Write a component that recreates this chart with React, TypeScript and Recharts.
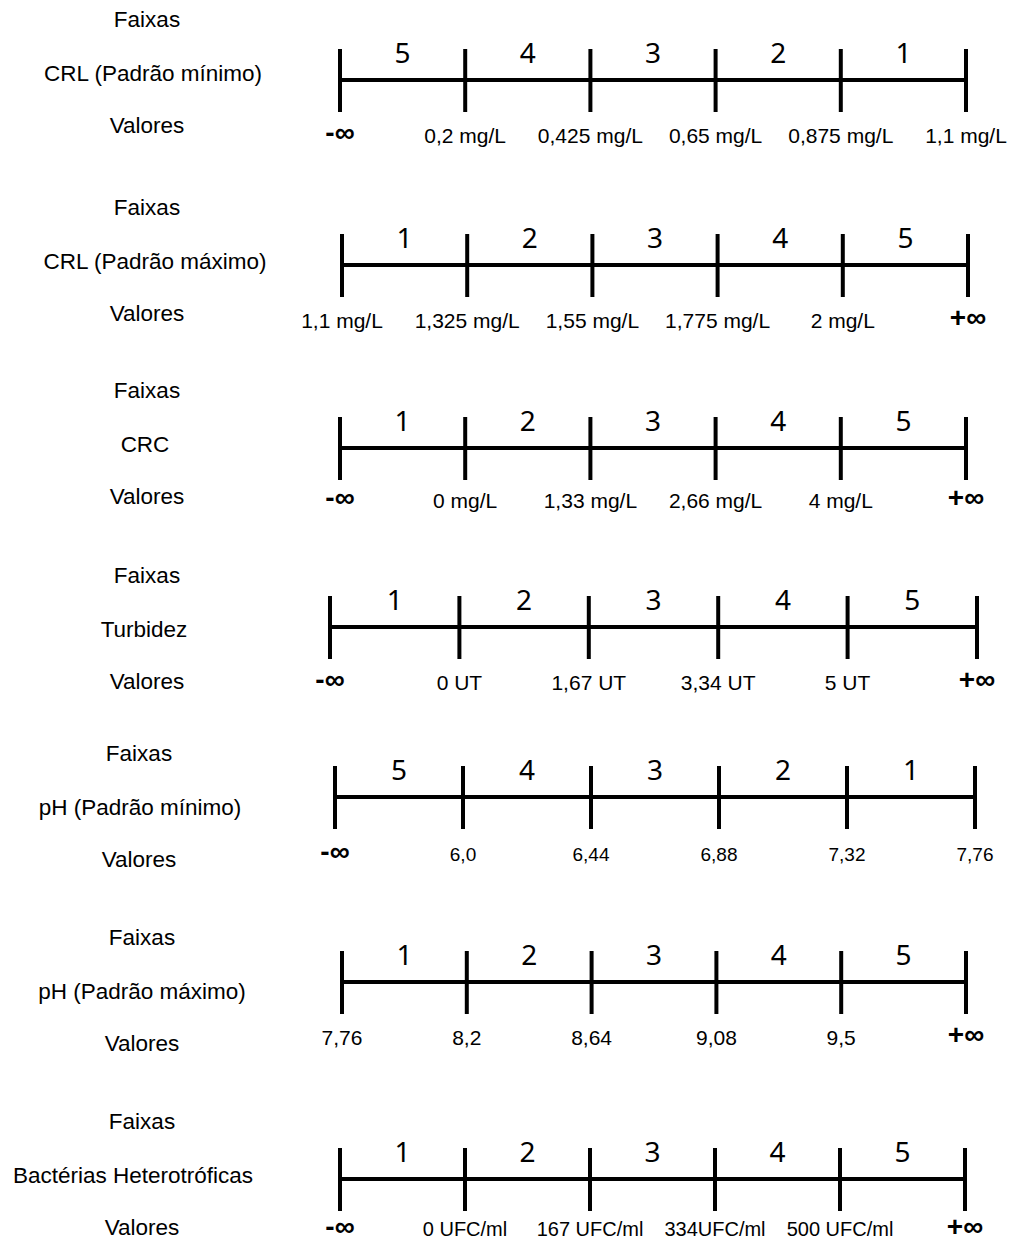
import { ComposedChart, Line, Scatter, XAxis, YAxis } from "recharts";

const W = 1013;
const H = 1241;
const CH = 170; // height of each row chart, the line sits in its middle

// ---- data ----
const rowNames = [
  "CRL (Padrão mínimo)",
  "CRL (Padrão máximo)",
  "CRC",
  "Turbidez",
  "pH (Padrão mínimo)",
  "pH (Padrão máximo)",
  "Bactérias Heterotróficas",
];
const bandsUp = [1, 2, 3, 4, 5];
const bandsDown = [5, 4, 3, 2, 1];
const rowBands = [bandsDown, bandsUp, bandsUp, bandsUp, bandsDown, bandsUp, bandsUp];

const crlMinValues = ["-∞", "0,2 mg/L", "0,425 mg/L", "0,65 mg/L", "0,875 mg/L", "1,1 mg/L"];
const crlMaxValues = ["1,1 mg/L", "1,325 mg/L", "1,55 mg/L", "1,775 mg/L", "2 mg/L", "+∞"];
const crcValues = ["-∞", "0 mg/L", "1,33 mg/L", "2,66 mg/L", "4 mg/L", "+∞"];
const turbValues = ["-∞", "0 UT", "1,67 UT", "3,34 UT", "5 UT", "+∞"];
const phMinValues = ["-∞", "6,0", "6,44", "6,88", "7,32", "7,76"];
const phMaxValues = ["7,76", "8,2", "8,64", "9,08", "9,5", "+∞"];
const bactValues = ["-∞", "0 UFC/ml", "167 UFC/ml", "334UFC/ml", "500 UFC/ml", "+∞"];
const rowValues = [crlMinValues, crlMaxValues, crcValues, turbValues, phMinValues, phMaxValues, bactValues];

// ---- layout (pixels) ----
const lineY = [80, 265, 448, 627, 797, 982, 1179];
const lineX0 = [340, 342, 340, 330, 335, 342, 340];
const lineX5 = [966, 968, 966, 977, 975, 966, 965];
const nameY = [74, 262, 445, 630, 808, 992, 1176];
const labelCx = [153, 155, 145, 144, 140, 142, 133];
const valuesCx = [147, 147, 147, 147, 139, 142, 142];
const valueDy = [55, 55, 52, 55, 57, 55, 50];
const valueSize = [21, 21, 21, 21, 19, 21, 20];

const TEXT_FONT = "'Liberation Sans', Arial, sans-serif";
const BAND_FONT = "'Noto Sans', 'Open Sans', sans-serif";

function makeTickMark(dy: number, size: number) {
  return function TickMark(props: any) {
    const { cx, cy, index, payload } = props;
    const v: string = payload.value;
    const inf = v === "-∞" || v === "+∞";
    return (
      <g key={`tick-${index}`}>
        <line x1={cx} x2={cx} y1={cy - 31} y2={cy + 32} stroke="#000" strokeWidth={4} />
        <text
          x={cx}
          y={cy + dy + (inf ? -3 : 0)}
          textAnchor="middle"
          dominantBaseline="central"
          fontSize={inf ? 28 : size}
          fontWeight={inf ? 700 : 400}
          fontFamily={TEXT_FONT}
          fill="#000"
        >
          {v}
        </text>
      </g>
    );
  };
}

function BandLabel(props: any) {
  const { cx, cy, payload } = props;
  return (
    <text
      x={cx}
      y={cy - 28}
      textAnchor="middle"
      dominantBaseline="central"
      fontSize={28}
      fontFamily={BAND_FONT}
      fill="#000"
    >
      {payload.band}
    </text>
  );
}

function Row({ i }: { i: number }) {
  const points = rowValues[i].map((value, k) => ({ pos: k, y: 0, value }));
  const bands = rowBands[i].map((band, k) => ({ pos: k + 0.5, y: 0, band }));
  const top = lineY[i] - CH / 2;
  const labelStyle = (y: number, cx: number): React.CSSProperties => ({
    position: "absolute",
    left: cx - 150,
    width: 300,
    top: y - 13,
    textAlign: "center",
    fontFamily: TEXT_FONT,
    fontSize: 22.5,
    lineHeight: "26px",
    color: "#000",
    whiteSpace: "nowrap",
  });
  return (
    <>
      <div style={labelStyle(nameY[i] - 54, valuesCx[i])}>Faixas</div>
      <div style={labelStyle(nameY[i], labelCx[i])}>{rowNames[i]}</div>
      <div style={labelStyle(nameY[i] + 52, valuesCx[i])}>Valores</div>
      <div style={{ position: "absolute", left: 0, top }}>
        <ComposedChart
          width={W}
          height={CH}
          data={points}
          margin={{ left: lineX0[i], right: W - lineX5[i], top: 0, bottom: 0 }}
          style={{ overflow: "visible" }}
        >
          <XAxis dataKey="pos" type="number" domain={[0, 5]} hide />
          <YAxis type="number" domain={[-1, 1]} hide />
          <Line
            dataKey="y"
            stroke="#000"
            strokeWidth={4}
            dot={makeTickMark(valueDy[i], valueSize[i])}
            activeDot={false}
            isAnimationActive={false}
          />
          <Scatter data={bands} dataKey="y" shape={BandLabel} isAnimationActive={false} />
        </ComposedChart>
      </div>
    </>
  );
}

export default function App() {
  return (
    <div
      style={{
        position: "absolute",
        left: 0,
        top: 0,
        width: W,
        height: H,
        background: "#fff",
        overflow: "hidden",
      }}
    >
      {rowNames.map((_, i) => (
        <Row key={i} i={i} />
      ))}
    </div>
  );
}
